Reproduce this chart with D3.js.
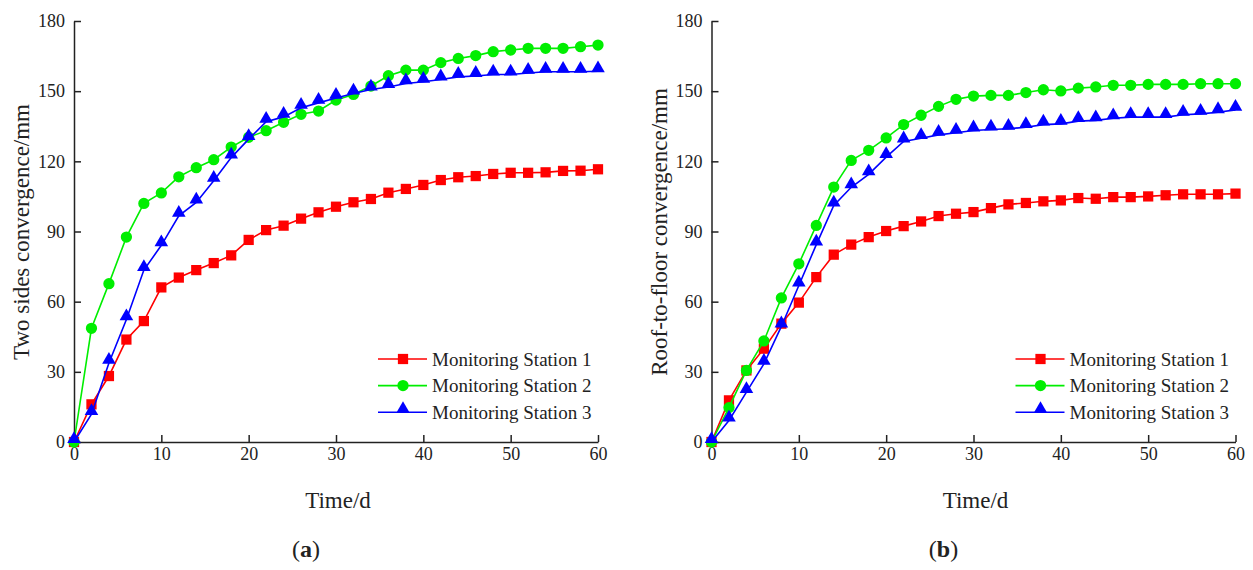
<!DOCTYPE html>
<html>
<head>
  <meta charset="utf-8">
  <style>
    body {
      margin: 0;
      background: #fff;
    }
    text {
      font-family: "Liberation Serif", "DejaVu Serif", serif;
      fill: #222;
    }
  </style>
</head>
<body>
<script src="https://d3js.org/d3.v7.min.js"></script>

<script>

// days of monitoring
var days = [0,2,4,6,8,10,12,14,16,18,20,22,24,26,28,30,32,34,36,38,40,42,44,46,48,50,52,54,56,58,60];

// (a) two sides convergence, mm
var sidesStation1 = [0,16.1,28.2,43.8,51.7,66.1,70.3,73.5,76.5,79.8,86.4,90.6,92.5,95.5,98.2,100.6,102.5,103.9,106.6,108.2,109.9,112,113.2,113.7,114.6,115.1,115.1,115.3,115.9,116,116.6];
var sidesStation2 = [0,48.6,67.7,87.6,102,106.5,113.4,117.3,120.7,126.1,130.3,133.1,136.7,140.1,141.5,146.2,148.6,152.2,156.6,159,159,162.2,164,165.2,166.9,167.6,168.3,168.3,168.3,169,169.7];
var sidesStation3 = [0,11.9,33.8,52.4,73.5,84.1,96.7,102.4,111.7,121.6,129.5,136.9,139,142.9,145,147.1,149,150.7,151.8,153.3,154,155,156.1,156.5,157.1,157.1,157.8,158.3,158.3,158.3,158.5];

// (b) roof-to-floor convergence, mm
var roofStation1 = [0,17.8,30.6,39.9,50.6,59.6,70.5,80.1,84.4,87.6,90.2,92.3,94.3,96.6,97.6,98.3,100,101.6,102.2,102.9,103.3,104.3,104,104.7,104.7,105,105.5,105.9,105.9,105.9,106.2];
var roofStation2 = [0,14.7,30.6,43.2,61.6,76.2,92.6,109,120.4,124.7,130,135.7,139.7,143.5,146.5,147.9,148.2,148.2,149.4,150.6,150.1,151.3,151.8,152.5,152.5,152.9,152.9,152.9,153.2,153.2,153.2];
var roofStation3 = [0,9.2,21.3,33.4,49.4,66.9,84.4,101.1,108.9,114.4,121.8,128.5,129.9,131.3,132.2,133.2,133.6,133.9,134.6,135.7,136,137.2,137.5,138.4,138.9,138.9,138.9,139.9,140.3,141,142];

var stationNames = ["Monitoring Station 1", "Monitoring Station 2", "Monitoring Station 3"];
var xTicks = [0,10,20,30,40,50,60];
var yTicks = [0,30,60,90,120,150,180];

var colors = ["#ff0000", "#00ee00", "#0000ff"];
var symbols = [
  d3.symbol().type(d3.symbolSquare).size(105),
  d3.symbol().type(d3.symbolCircle).size(100),
  d3.symbol().type(d3.symbolTriangle).size(80)
];
// triangles sit a little above their point, like the original plot
var markerShift = [0, 0, -3];

var svg = d3.select("body").append("svg")
            .attr("width", 1253)
            .attr("height", 570);

function drawPanel(left, yTitle, series, label) {
  var x = d3.scaleLinear().domain([0, 60]).range([left, left + 524]);
  var y = d3.scaleLinear().domain([0, 180]).range([442, 21]);

  var g = svg.append("g");

  var xAxis = g.append("g")
               .attr("transform", "translate(0,442)")
               .call(d3.axisBottom(x).tickValues(xTicks).tickSizeInner(-7).tickSizeOuter(0).tickPadding(5));
  var yAxis = g.append("g")
               .attr("transform", "translate(" + left + ",0)")
               .call(d3.axisLeft(y).tickValues(yTicks).tickSizeInner(-7).tickSizeOuter(0).tickPadding(9));

  [xAxis, yAxis].forEach(function(a) {
    a.selectAll("path, line").attr("stroke", "#222").attr("stroke-width", 1.5);
    a.selectAll("text").style("font-size", "18px").attr("fill", "#333");
  });

  var line = d3.line()
               .x(function(d, i) { return x(days[i]); })
               .y(function(d) { return y(d); });

  series.forEach(function(values, k) {
    g.append("path")
     .attr("d", line(values))
     .attr("fill", "none")
     .attr("stroke", colors[k])
     .attr("stroke-width", 1.6);
    g.selectAll(".m" + k)
     .data(values)
     .enter().append("path")
     .attr("class", "m" + k)
     .attr("transform", function(d, i) { return "translate(" + x(days[i]) + "," + (y(d) + markerShift[k]) + ")"; })
     .attr("d", symbols[k])
     .attr("fill", colors[k]);
  });

  // legend
  var lx = left + 304;
  stationNames.forEach(function(name, k) {
    var ly = 359 + k * 26.6;
    g.append("line")
     .attr("x1", lx).attr("x2", lx + 49)
     .attr("y1", ly).attr("y2", ly)
     .attr("stroke", colors[k]).attr("stroke-width", 1.6);
    g.append("path")
     .attr("transform", "translate(" + (lx + 25) + "," + (ly + markerShift[k]) + ")")
     .attr("d", symbols[k])
     .attr("fill", colors[k]);
    g.append("text")
     .attr("x", lx + 54).attr("y", ly)
     .attr("dy", "0.35em")
     .style("font-size", "19px")
     .text(name);
  });

  g.append("text")
   .attr("transform", "translate(" + (left - 53) + ",232) rotate(-90)")
   .attr("text-anchor", "middle")
   .attr("dy", "0.35em")
   .style("font-size", "23px")
   .text(yTitle);

  g.append("text")
   .attr("x", left + 264).attr("y", 500)
   .attr("text-anchor", "middle")
   .attr("dy", "0.35em")
   .style("font-size", "23px")
   .text("Time/d");

  var cap = g.append("text")
             .attr("x", left + 232).attr("y", 549)
             .attr("text-anchor", "middle")
             .attr("dy", "0.35em")
             .style("font-size", "24px");
  cap.append("tspan").text("(");
  cap.append("tspan").style("font-weight", "bold").text(label);
  cap.append("tspan").text(")");
}

drawPanel(74, "Two sides convergence/mm", [sidesStation1, sidesStation2, sidesStation3], "a");
drawPanel(711.5, "Roof-to-floor convergence/mm", [roofStation1, roofStation2, roofStation3], "b");

</script>
</body>
</html>
